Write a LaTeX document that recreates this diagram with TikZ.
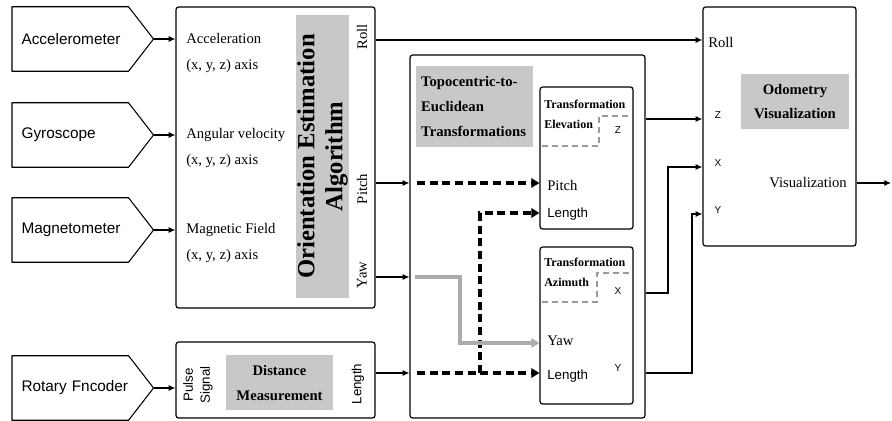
\documentclass[tikz,border=0pt]{standalone}
\usepackage{fontspec}
\setmainfont{Liberation Serif}
\setsansfont{Liberation Sans}
\usetikzlibrary{fit,arrows.meta}
\definecolor{boxgray}{HTML}{C8C8C8}
\definecolor{dashgray}{HTML}{9A9A9A}
\definecolor{arrgray}{HTML}{ABABAB}
\begin{document}
\begin{tikzpicture}[x=0.75pt,y=-0.75pt,
  sensor/.style={rectangle,minimum width=87pt,minimum height=48pt,inner xsep=7pt,inner ysep=0pt,
    text width=73pt,align=left,font=\sffamily\fontsize{11.5}{13}\selectfont},
  sline/.style={draw,line width=0.8pt,line join=round},
  box/.style={draw,line width=0.9pt,inner sep=0pt,rounded corners=2pt},
  graybox/.style={fill=boxgray,inner sep=0pt},
  intext/.style={align=left,inner sep=0pt,font=\fontsize{11}{19.5}\selectfont},
  ser/.style={inner sep=0pt,font=\fontsize{11}{13}\selectfont},
  sanslab/.style={inner sep=0pt,font=\sffamily\fontsize{10}{12.75}\selectfont},
  tiny/.style={inner sep=0pt,font=\sffamily\fontsize{7.5}{9}\selectfont},
  head/.style={inner sep=0pt,font=\bfseries\fontsize{9}{11}\selectfont},
  arr/.style={-{Latex[length=5pt,width=4.5pt]},line width=0.8pt},
  darr/.style={-{Triangle[length=6pt,width=7pt]},line width=2.6pt,dash pattern=on 6pt off 3.5pt},
  garr/.style={-{Triangle[length=6pt,width=7pt]},line width=2.6pt,draw=arrgray,color=arrgray},
  gdash/.style={draw=dashgray,line width=1pt,dash pattern=on 4.5pt off 3pt}
]
\useasboundingbox (0,0) rectangle (892,421);

% sensors
\node[sensor,anchor=west] (acc) at (12,39) {Accelerometer};
\node[sensor,anchor=west] (gyr) at (12,135) {Gyroscope};
\node[sensor,anchor=west] (mag) at (12,230) {Magnetometer};
\node[sensor,anchor=west] (rot) at (12,388) {\mbox{Rotary Fncoder}};
\foreach \s in {acc,gyr,mag,rot}{
  \draw[sline] (\s.north west) -- (\s.north east) -- ([xshift=18.75pt]\s.east)
    -- (\s.south east) -- (\s.south west) -- cycle;
  \coordinate (\s tip) at ([xshift=18.75pt]\s.east);
}

% main boxes
\node[box,fit={(176,7)(375,308)}] (orient) {};
\node[box,fit={(176,342)(375,418)}] (dist) {};
\node[box,fit={(410,55)(645,418)}] (topo) {};
\node[box,fit={(540,87)(633,229)}] (elev) {};
\node[box,fit={(540,247)(633,404)}] (azi) {};
\node[box,fit={(703,7)(856,246)}] (odo) {};

% orientation box contents
\node[intext,anchor=west] (acct) at (186,53) {Acceleration\\(x, y, z) axis};
\node[intext,anchor=west] (gyrt) at (186,148) {Angular velocity\\(x, y, z) axis};
\node[intext,anchor=west] (magt) at (186,243) {Magnetic Field\\(x, y, z) axis};
\node[graybox,rotate=90,minimum width=212pt,minimum height=40pt,align=center,
  font=\bfseries\fontsize{18.5}{21}\selectfont] (oea) at (322.5,156.5) {Orientation Estimation\\Algorithm};
\node[ser,rotate=90] (rollo) at (362,37) {Roll};
\node[ser,rotate=90] (pitcho) at (362,189) {Pitch};
\node[ser,rotate=90] (yawo) at (362,275) {Yaw};

% distance box contents
\node[sanslab,rotate=90,align=center] (pulse) at (198,385) {Pulse\\Signal};
\node[graybox,minimum width=80.25pt,minimum height=41.25pt,align=center,
  font=\bfseries\fontsize{11}{18.75}\selectfont] (dm) at (279.5,382.5) {Distance\\Measurement};
\node[sanslab,rotate=90] (leno) at (358,384) {Length};

% topocentric contents
\node[graybox,minimum width=88pt,minimum height=60.75pt,text width=80pt,inner xsep=4pt,align=left,
  font=\bfseries\fontsize{11}{18.75}\selectfont] (tet) at (474.5,106.5) {Topocentric-to-\\Euclidean\\Transformations};
\node[head,anchor=west] (te1) at (544,104) {Transformation};
\node[head,anchor=west] (te2) at (544,124) {Elevation};
\node[tiny] (zo) at (618,130) {Z};
\node[ser,anchor=west] (pitchi) at (547,185) {Pitch};
\node[sanslab,anchor=west] (leni1) at (547,214) {Length};
\node[head,anchor=west] (ta1) at (544,262) {Transformation};
\node[head,anchor=west] (ta2) at (544,282) {Azimuth};
\node[tiny] (xo) at (618,291) {X};
\node[ser,anchor=west] (yawi) at (547,341) {Yaw};
\node[sanslab,anchor=west] (leni2) at (547,376) {Length};
\node[tiny] (yo) at (618,368) {Y};
\draw[gdash] (542,146) -- (599,146) -- (599,116) -- (631,116);
\draw[gdash] (542,302) -- (597,302) -- (597,273) -- (631,273);

% odometry contents
\node[graybox,minimum width=81pt,minimum height=41.25pt,align=center,
  font=\bfseries\fontsize{11}{18}\selectfont] (ov) at (795,101.5) {Odometry\\Visualization};
\node[ser,anchor=west] (rolli) at (708,42) {Roll};
\node[tiny] (zi) at (718,115) {Z};
\node[tiny] (xi) at (718,163) {X};
\node[tiny] (yi) at (718,210) {Y};
\node[ser,anchor=east] (vis) at (847,183) {Visualization};

% row / column helpers
\coordinate (yRoll) at (0,40);
\coordinate (yPitch) at (0,183);
\coordinate (yYaw) at (0,277);
\coordinate (yLen) at (0,373);
\coordinate (yLen2) at (0,213);
\coordinate (yYawIn) at (0,343);
\coordinate (yZ) at (0,119);
\coordinate (yX) at (0,167);
\coordinate (yY) at (0,214);
\coordinate (yXo) at (0,293);
\coordinate (yYo) at (0,373);
\coordinate (yVis) at (0,183);
\coordinate (xDash) at (417,0);
\coordinate (xGs) at (415,0);
\coordinate (xBranch) at (480,0);
\coordinate (xGray) at (460,0);
\coordinate (xX) at (668,0);
\coordinate (xY) at (692,0);
\coordinate (visout) at (891,183);

% sensor arrows
\draw[arr] (acctip) -- (acctip -| orient.west);
\draw[arr] (gyrtip) -- (gyrtip -| orient.west);
\draw[arr] (magtip) -- (magtip -| orient.west);
\draw[arr] (rottip) -- (rottip -| dist.west);

% orientation outputs
\draw[arr] (orient.east |- yRoll) -- (odo.west |- yRoll);
\draw[arr] (orient.east |- yPitch) -- (topo.west |- yPitch);
\draw[arr] (orient.east |- yYaw) -- (topo.west |- yYaw);
\draw[arr] (dist.east |- yLen) -- (topo.west |- yLen);

% inside topocentric
\draw[darr] (xDash |- yPitch) -- (elev.west |- yPitch);
\draw[darr] (xDash |- yLen) -- (azi.west |- yLen);
\draw[darr] (xBranch |- yLen) -- (xBranch |- yLen2) -- (elev.west |- yLen2);
\draw[garr] (xGs |- yYaw) -- (xGray |- yYaw) -- (xGray |- yYawIn) -- (azi.west |- yYawIn);

% outputs to odometry
\draw[arr] (topo.east |- yZ) -- (odo.west |- yZ);
\draw[arr] (topo.east |- yXo) -- (xX |- yXo) -- (xX |- yX) -- (odo.west |- yX);
\draw[arr] (topo.east |- yYo) -- (xY |- yYo) -- (xY |- yY) -- (odo.west |- yY);
\draw[arr] (odo.east |- yVis) -- (visout);
\end{tikzpicture}
\end{document}
